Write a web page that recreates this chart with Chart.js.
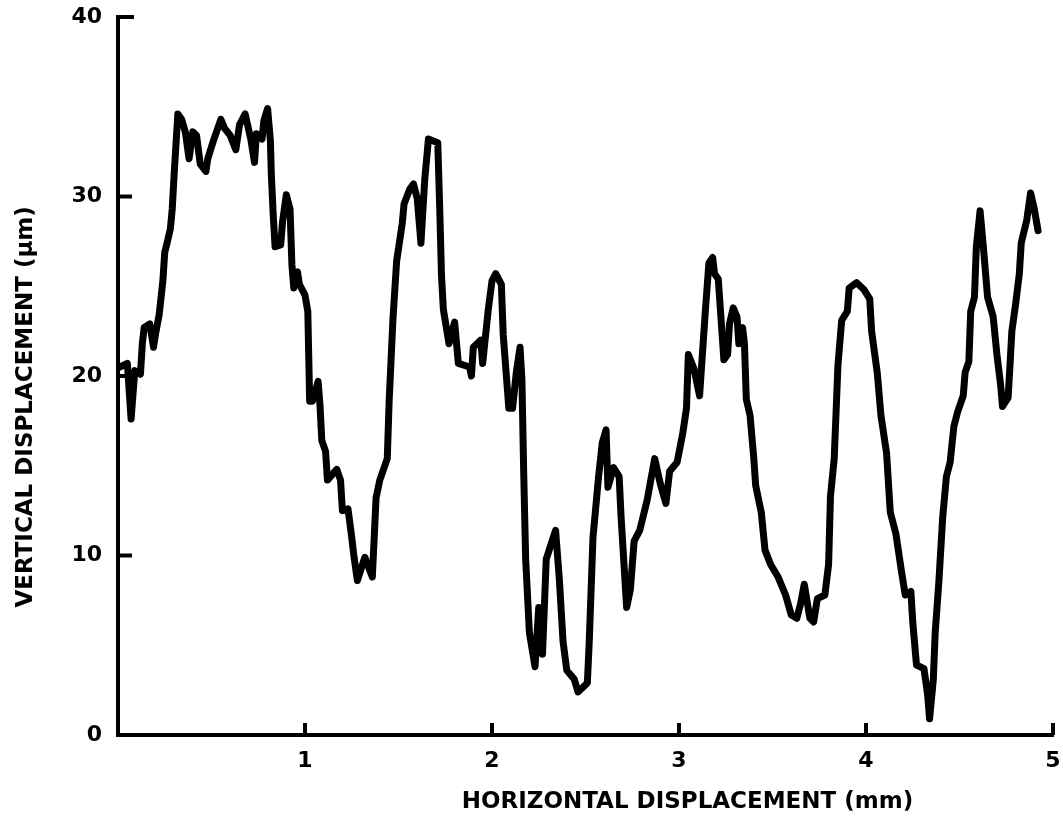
<!DOCTYPE html>
<html>
<head>
<meta charset="utf-8">
<script src="https://cdn.jsdelivr.net/npm/chart.js@4.4.1/dist/chart.umd.min.js"></script>
<style>
  body { margin: 0; background: #fff; }
  #wrap { width: 1063px; height: 823px; }
</style>
</head>
<body>
<div id="wrap"><canvas id="profileChart" width="1063" height="823"></canvas></div>
<script>
// horizontal position along the surface (mm)
const xValues = [
  0.01, 0.05, 0.07, 0.09, 0.12, 0.13, 0.14, 0.17, 0.19, 0.20, 0.22, 0.24, 0.25, 0.26, 0.28, 0.29,
  0.30, 0.32, 0.34, 0.36, 0.38, 0.40, 0.42, 0.44, 0.47, 0.48, 0.51, 0.55, 0.57, 0.60, 0.63, 0.65,
  0.68, 0.71, 0.73, 0.74, 0.77, 0.78, 0.80, 0.815, 0.82, 0.83, 0.84, 0.87, 0.88, 0.90, 0.92, 0.93,
  0.94, 0.96, 0.97, 1.00, 1.015, 1.025, 1.04, 1.07, 1.08, 1.09, 1.11, 1.12, 1.17, 1.19, 1.20, 1.23,
  1.25, 1.26, 1.28, 1.32, 1.36, 1.38, 1.40, 1.44, 1.45, 1.47, 1.49, 1.52, 1.53, 1.56, 1.58, 1.60,
  1.62, 1.64, 1.66, 1.71, 1.72, 1.73, 1.74, 1.77, 1.80, 1.82, 1.88, 1.89, 1.90, 1.94, 1.95, 1.98,
  2.00, 2.02, 2.05, 2.06, 2.09, 2.11, 2.13, 2.15, 2.16, 2.17, 2.18, 2.20, 2.23, 2.25, 2.27, 2.29,
  2.34, 2.36, 2.38, 2.40, 2.44, 2.46, 2.51, 2.52, 2.54, 2.57, 2.59, 2.61, 2.62, 2.65, 2.68, 2.69,
  2.72, 2.74, 2.76, 2.79, 2.83, 2.87, 2.90, 2.93, 2.95, 2.99, 3.02, 3.04, 3.05, 3.08, 3.11, 3.14,
  3.16, 3.18, 3.19, 3.21, 3.24, 3.26, 3.27, 3.29, 3.31, 3.32, 3.34, 3.35, 3.36, 3.38, 3.40, 3.41,
  3.44, 3.46, 3.49, 3.53, 3.57, 3.60, 3.63, 3.65, 3.67, 3.70, 3.72, 3.74, 3.78, 3.80, 3.81, 3.83,
  3.84, 3.85, 3.87, 3.90, 3.91, 3.95, 3.99, 4.02, 4.03, 4.06, 4.08, 4.11, 4.13, 4.16, 4.19, 4.21,
  4.24, 4.25, 4.27, 4.31, 4.33, 4.34, 4.36, 4.37, 4.39, 4.41, 4.43, 4.45, 4.47, 4.49, 4.52, 4.53,
  4.55, 4.56, 4.58, 4.59, 4.61, 4.63, 4.65, 4.68, 4.70, 4.72, 4.73, 4.76, 4.77, 4.78, 4.80, 4.82,
  4.83, 4.86, 4.88, 4.90, 4.92
];

// vertical displacement (µm)
const yValues = [
  20.5, 20.7, 17.6, 20.3, 20.1, 21.8, 22.7, 22.9, 21.6, 22.3, 23.4, 25.3, 26.9, 27.3, 28.2, 29.3,
  31.2, 34.6, 34.3, 33.6, 32.1, 33.6, 33.4, 31.8, 31.4, 32.1, 33.1, 34.3, 33.8, 33.4, 32.6, 34.0,
  34.6, 33.2, 31.9, 33.5, 33.2, 34.2, 34.9, 33.1, 31.2, 29.0, 27.2, 27.3, 28.6, 30.1, 29.3, 26.2,
  24.9, 25.8, 25.1, 24.5, 23.6, 18.6, 18.6, 19.7, 18.4, 16.4, 15.8, 14.2, 14.8, 14.2, 12.5, 12.6,
  11.0, 10.1, 8.6, 9.9, 8.8, 13.2, 14.2, 15.4, 18.6, 23.1, 26.4, 28.5, 29.6, 30.4, 30.7, 29.9,
  27.4, 30.9, 33.2, 33.0, 29.5, 25.6, 23.7, 21.8, 23.0, 20.7, 20.5, 20.0, 21.6, 22.0, 20.7, 23.7,
  25.3, 25.7, 25.1, 22.3, 18.2, 18.2, 20.2, 21.6, 19.8, 14.4, 9.8, 5.7, 3.8, 7.1, 4.5, 9.8,
  11.4, 8.7, 5.2, 3.6, 3.1, 2.4, 2.9, 5.2, 11.0, 14.4, 16.3, 17.0, 13.8, 14.9, 14.4, 12.2,
  7.1, 8.1, 10.8, 11.4, 13.1, 15.4, 14.0, 12.9, 14.7, 15.2, 16.8, 18.2, 21.2, 20.4, 18.9, 23.5,
  26.3, 26.6, 25.7, 25.4, 20.9, 21.2, 22.9, 23.8, 23.3, 21.8, 22.7, 21.8, 18.7, 17.8, 15.4, 13.9,
  12.4, 10.3, 9.5, 8.8, 7.8, 6.7, 6.5, 7.3, 8.4, 6.5, 6.3, 7.6, 7.8, 9.5, 13.3, 15.4,
  18.0, 20.6, 23.1, 23.6, 24.9, 25.2, 24.8, 24.3, 22.5, 20.2, 17.8, 15.7, 12.4, 11.2, 9.1, 7.8,
  8.0, 6.3, 3.9, 3.7, 2.2, 0.9, 3.1, 5.7, 8.6, 12.1, 14.4, 15.2, 17.2, 18.0, 18.9, 20.2,
  20.8, 23.6, 24.4, 27.2, 29.2, 26.9, 24.4, 23.3, 21.2, 19.5, 18.3, 18.8, 20.6, 22.5, 24.0, 25.7,
  27.4, 28.7, 30.2, 29.3, 28.1
];

const xTicks = [1, 2, 3, 4, 5];
const yTicks = [10, 20, 30, 40];
const xTitle = 'HORIZONTAL DISPLACEMENT (mm)';
const yTitle = 'VERTICAL DISPLACEMENT (µm)';

const points = xValues.map((x, i) => ({ x: x, y: yValues[i] }));

const labelFont = { family: 'DejaVu Sans', weight: 'bold', size: 22 };

// tick marks pointing into the plot and the two axis titles, placed like the original drawing
const axisExtras = {
  id: 'axisExtras',
  afterDraw(chart) {
    const ctx = chart.ctx;
    const xs = chart.scales.x, ys = chart.scales.y;
    const area = chart.chartArea;
    ctx.save();
    ctx.strokeStyle = '#000';
    ctx.lineWidth = 4;
    xTicks.forEach(v => {
      const px = xs.getPixelForValue(v);
      ctx.beginPath();
      ctx.moveTo(px, area.bottom);
      ctx.lineTo(px, area.bottom - 12);
      ctx.stroke();
    });
    yTicks.forEach(v => {
      const py = ys.getPixelForValue(v);
      ctx.beginPath();
      ctx.moveTo(area.left, py);
      ctx.lineTo(area.left + (v === 40 ? 16 : 14), py);
      ctx.stroke();
    });

    ctx.fillStyle = '#000';
    ctx.font = 'bold 23px "DejaVu Sans"';
    ctx.textAlign = 'center';
    ctx.textBaseline = 'middle';
    ctx.fillText(xTitle, area.left + (area.right - area.left) * 0.609, 802);

    ctx.translate(26, area.top + (area.bottom - area.top) * 0.543);
    ctx.rotate(-Math.PI / 2);
    ctx.fillText(yTitle, 0, 0);
    ctx.restore();
  }
};

const ctx = document.getElementById('profileChart').getContext('2d');
new Chart(ctx, {
  type: 'line',
  data: {
    datasets: [{
      data: points,
      borderColor: '#000',
      borderWidth: 7,
      borderJoinStyle: 'round',
      borderCapStyle: 'round',
      pointRadius: 0,
      fill: false,
      tension: 0
    }]
  },
  options: {
    responsive: false,
    animation: false,
    layout: { padding: { top: 17, right: 10, left: 0, bottom: 0 } },
    plugins: {
      legend: { display: false },
      tooltip: { enabled: false }
    },
    scales: {
      x: {
        type: 'linear',
        min: 0,
        max: 5,
        afterFit: scale => {
          scale.height = 88;
          scale.paddingLeft = 0;
          scale.paddingRight = 0;
        },
        border: { display: true, color: '#000', width: 4 },
        grid: { drawOnChartArea: false, drawTicks: false },
        ticks: {
          stepSize: 1,
          color: '#000',
          font: labelFont,
          padding: 13,
          maxRotation: 0,
          callback: v => (v === 0 ? '' : v)
        }
      },
      y: {
        min: 0,
        max: 40,
        afterFit: scale => {
          scale.width = 118;
          scale.paddingTop = 0;
          scale.paddingBottom = 0;
        },
        border: { display: true, color: '#000', width: 4 },
        grid: { drawOnChartArea: false, drawTicks: false },
        ticks: {
          stepSize: 10,
          color: '#000',
          font: labelFont,
          padding: 16
        }
      }
    }
  },
  plugins: [axisExtras]
});
</script>
</body>
</html>
